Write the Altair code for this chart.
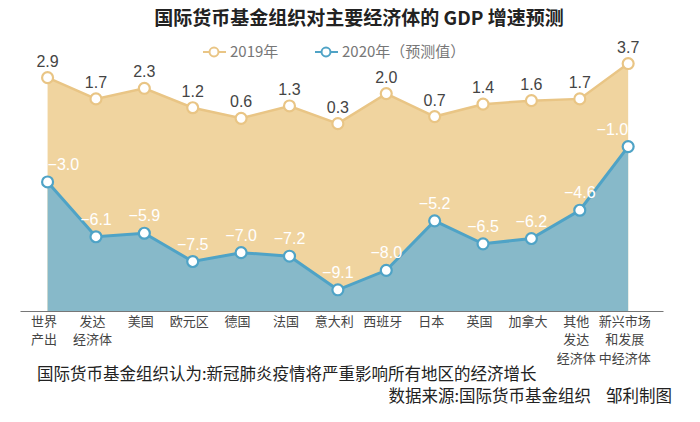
import altair as alt
import pandas as pd

categories = ["世界|产出", "发达|经济体", "美国", "欧元区", "德国", "法国", "意大利",
              "西班牙", "日本", "英国", "加拿大", "其他|发达|经济体", "新兴市场|和发展|中经济体"]
v2019 = [2.9, 1.7, 2.3, 1.2, 0.6, 1.3, 0.3, 2.0, 0.7, 1.4, 1.6, 1.7, 3.7]
v2020 = [-3.0, -6.1, -5.9, -7.5, -7.0, -7.2, -9.1, -8.0, -5.2, -6.5, -6.2, -4.6, -1.0]
labels2019 = ["2.9", "1.7", "2.3", "1.2", "0.6", "1.3", "0.3", "2.0", "0.7", "1.4", "1.6", "1.7", "3.7"]
labels2020 = ["−3.0", "−6.1", "−5.9", "−7.5", "−7.0", "−7.2", "−9.1", "−8.0", "−5.2", "−6.5", "−6.2", "−4.6", "−1.0"]
series_names = ["2019年", "2020年（预测值）"]
title_text = "国际货币基金组织对主要经济体的 GDP 增速预测"
note_text = "国际货币基金组织认为:新冠肺炎疫情将严重影响所有地区的经济增长"
source_text = "数据来源:国际货币基金组织"
author_text = "邹利制图"

Y_MIN, Y_MAX = -10.3, 3.9
FONT = "Noto Sans CJK SC"
NUM_FONT = "Liberation Sans"
TAN_FILL, TAN_LINE = "#F0D49F", "#E9C585"
BLUE_FILL, BLUE_LINE = "#87B9C9", "#4FA3C6"

idx = list(range(len(categories)))
df = pd.DataFrame({"i": idx, "cat": categories, "a": v2019, "b": v2020,
                   "la": labels2019, "lb": labels2020})

label_js = "[" + ",".join("'" + c + "'" for c in categories) + "]"
xscale = alt.Scale(domain=[-0.57, 12.72], nice=False, zero=False)
yscale = alt.Scale(domain=[Y_MIN, Y_MAX], nice=False, zero=False)

X = alt.X("i:Q", scale=xscale, axis=alt.Axis(
    values=idx, title=None, grid=False, ticks=False, domainColor="#777", domainWidth=1,
    labelExpr="split(" + label_js + "[datum.value], '|')",
    labelFont=FONT, labelFontSize=13, labelColor="#444", labelLineHeight=18.5,
    labelPadding=4, labelOffset=-4, labelBaseline="top", labelFlush=False,
    labelOverlap=False))
Yax = alt.Axis(title=None, labels=False, ticks=False, domain=False, grid=False)

base = alt.Chart(df)

area19 = base.mark_area(color=TAN_FILL, opacity=1).encode(
    x=X, y=alt.Y("a:Q", scale=yscale, axis=Yax), y2=alt.datum(Y_MIN))
area20 = base.mark_area(color=BLUE_FILL, opacity=1).encode(
    x=alt.X("i:Q", scale=xscale), y=alt.Y("b:Q", scale=yscale), y2=alt.datum(Y_MIN))
line19 = base.mark_line(color=TAN_LINE, strokeWidth=2.5).encode(
    x=alt.X("i:Q", scale=xscale), y=alt.Y("a:Q", scale=yscale))
line20 = base.mark_line(color=BLUE_LINE, strokeWidth=3).encode(
    x=alt.X("i:Q", scale=xscale), y=alt.Y("b:Q", scale=yscale))
pt19 = base.mark_point(filled=True, fill="white", stroke=TAN_LINE, strokeWidth=2.2,
                       size=120, opacity=1).encode(
    x=alt.X("i:Q", scale=xscale), y=alt.Y("a:Q", scale=yscale))
pt20 = base.mark_point(filled=True, fill="white", stroke=BLUE_LINE, strokeWidth=2.2,
                       size=120, opacity=1).encode(
    x=alt.X("i:Q", scale=xscale), y=alt.Y("b:Q", scale=yscale))

txt19 = base.mark_text(font=NUM_FONT, fontSize=16, color="#444",
                       dy=-11, baseline="alphabetic").encode(
    x=alt.X("i:Q", scale=xscale), y=alt.Y("a:Q", scale=yscale), text="la:N")

def txt20(align, flt):
    return base.transform_filter(flt).mark_text(
        font=NUM_FONT, fontSize=16, color="white", dy=-12,
        baseline="alphabetic", align=align).encode(
        x=alt.X("i:Q", scale=xscale), y=alt.Y("b:Q", scale=yscale), text="lb:N")

t20_mid = txt20("center", "datum.i > 0 && datum.i < 12")
t20_first = txt20("left", "datum.i == 0")
t20_last = txt20("right", "datum.i == 12")

ann = alt.Chart(pd.DataFrame({"d": [0]}))
title = ann.mark_text(font=FONT, fontSize=19, fontWeight="bold", color="#222",
                      align="center", baseline="middle").encode(
    x=alt.value(339), y=alt.value(-41), text=alt.value(title_text))

def legend_item(x0, color, name):
    r = ann.mark_rule(color=color, strokeWidth=2).encode(
        x=alt.value(x0), x2=alt.value(x0 + 23), y=alt.value(-8))
    p = ann.mark_point(filled=True, fill="white", stroke=color, strokeWidth=2,
                       size=80, opacity=1).encode(x=alt.value(x0 + 11), y=alt.value(-8))
    t = ann.mark_text(font=FONT, fontSize=15, color="#777", align="left",
                      baseline="middle").encode(
        x=alt.value(x0 + 27), y=alt.value(-8), text=alt.value(name))
    return [r, p, t]

leg = legend_item(183, TAN_LINE, series_names[0]) + legend_item(295, BLUE_LINE, series_names[1])

note = ann.mark_text(font=FONT, fontSize=16.5, color="#222", align="left",
                     baseline="middle").encode(
    x=alt.value(17), y=alt.value(315), text=alt.value(note_text))
src = ann.mark_text(font=FONT, fontSize=16.5, color="#222", align="right",
                    baseline="middle").encode(
    x=alt.value(571), y=alt.value(337), text=alt.value(source_text))
auth = ann.mark_text(font=FONT, fontSize=16.5, color="#222", align="right",
                     baseline="middle").encode(
    x=alt.value(652), y=alt.value(337), text=alt.value(author_text))

chart = alt.layer(area19, area20, line19, line20, pt19, pt20, txt19,
                  t20_mid, t20_first, t20_last, title, *leg, note, src, auth).properties(
    width=643, height=251,
    autosize=alt.AutoSizeParams(type="none"),
    padding={"left": 20, "top": 60, "right": 37, "bottom": 111},
    background="white",
).configure_view(stroke=None)

chart.save("out.html", embed_options={"renderer": "svg", "actions": False})
